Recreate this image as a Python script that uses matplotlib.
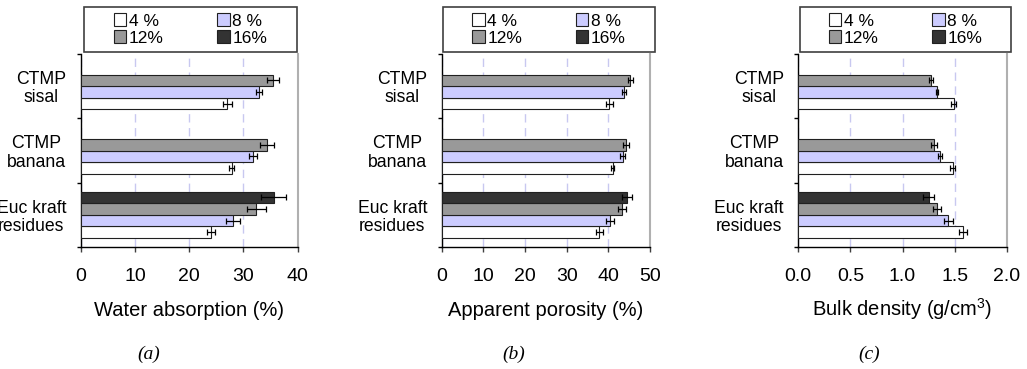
import matplotlib
matplotlib.use('Agg')
import matplotlib.pyplot as plt
from matplotlib.patches import Rectangle
import numpy as np

plt.rcParams['font.family'] = ['Liberation Sans', 'DejaVu Sans']
plt.rcParams['mathtext.default'] = 'regular'

categories = ['CTMP\nsisal', 'CTMP\nbanana', 'Euc kraft\nresidues']
series = ['4 %', '8 %', '12%', '16%']
colors = ['#ffffff', '#ccccff', '#999999', '#333333']

# water absorption (%), values and errors, per series, order of categories
water = [[27.0, 27.8, 24.0], [32.9, 31.8, 28.1], [35.4, 34.3, 32.4], [None, None, 35.6]]
water_err = [[0.8, 0.5, 0.8], [0.6, 0.7, 1.3], [1.1, 1.3, 1.7], [None, None, 2.3]]

porosity = [[40.2, 41.0, 37.8], [43.8, 43.4, 40.4], [45.3, 44.2, 43.2], [None, None, 44.4]]
porosity_err = [[0.8, 0.4, 0.8], [0.5, 0.5, 1.0], [0.6, 0.8, 1.0], [None, None, 1.2]]

density = [[1.49, 1.48, 1.58], [1.33, 1.36, 1.44], [1.27, 1.30, 1.33], [None, None, 1.25]]
density_err = [[0.02, 0.02, 0.04], [0.01, 0.02, 0.04], [0.02, 0.03, 0.04], [None, None, 0.05]]

xlabels = ['Water absorption (%)', 'Apparent porosity (%)', 'Bulk density (g/cm$^{3}$)']
xlims = [40, 50, 2.0]
xsteps = [10, 10, 0.5]
panel_tags = ['(a)', '(b)', '(c)']

fig = plt.figure(figsize=(10.27, 3.69), dpi=100)
W, H = 1027, 369

# pixel layout: left, right of each axes, and legend box
ax_px = [(80.7, 297.7), (441.7, 650.0), (798.3, 1006.7)]
leg_px = [(84, 297), (443, 655), (800, 1011)]
tag_x = [149, 514, 869]
top_px, bot_px = 54, 247

h = 0.18
offsets = [1.5 * h, 0.5 * h, -0.5 * h, -1.5 * h]

datasets = [(water, water_err), (porosity, porosity_err), (density, density_err)]

for p in range(3):
    l, r = ax_px[p]
    ax = fig.add_axes([l / W, 1 - bot_px / H, (r - l) / W, (bot_px - top_px) / H])
    vals, errs = datasets[p]
    handles = []
    for s in range(4):
        ys, xs, es = [], [], []
        for c in range(3):
            if vals[s][c] is not None:
                ys.append(c + offsets[s])
                xs.append(vals[s][c])
                es.append(errs[s][c])
        b = ax.barh(ys, xs, height=h, color=colors[s], edgecolor='#202020',
                    linewidth=0.8, zorder=3, label=series[s])
        ax.errorbar(xs, ys, xerr=es, fmt='none', ecolor='black', elinewidth=0.9,
                    capsize=2, capthick=0.9, zorder=4)
        handles.append(b)

    ax.set_ylim(-0.5, 2.5)
    ax.invert_yaxis()
    ax.set_yticks(range(3))
    ax.set_yticklabels(categories, fontsize=12.7, multialignment='center', linespacing=1.1)
    ax.set_yticks([-0.5, 0.5, 1.5, 2.5], minor=True)
    ax.tick_params(axis='y', which='major', length=0, pad=10.5)
    ax.tick_params(axis='y', which='minor', length=3, width=1, direction='out')

    ax.set_xlim(0, xlims[p])
    ax.set_xticks(np.arange(0, xlims[p] + xsteps[p] / 2, xsteps[p]))
    ax.tick_params(axis='x', length=3.6, width=1, direction='out', labelsize=14, pad=11.5,
                   color='#404040')
    ax.set_xlabel(xlabels[p], fontsize=14.5, va='baseline')
    ax.xaxis.set_label_coords(0.5, (bot_px - 316) / (bot_px - top_px))

    ax.grid(axis='x', color='#c8c8f0', linestyle=(0, (6, 4)), linewidth=1, zorder=0)
    ax.spines['top'].set_visible(False)
    ax.spines['right'].set_color('#b0b0b0')
    ax.spines['right'].set_linewidth(1.5)
    ax.spines['left'].set_linewidth(1)
    ax.spines['bottom'].set_linewidth(1)

    # legend box above the axes
    lx0, lx1 = leg_px[p]
    x0 = (lx0 - l) / (r - l)
    x1 = (lx1 - l) / (r - l)
    y0 = (bot_px - 52) / (bot_px - top_px)
    y1 = (bot_px - 7) / (bot_px - top_px)
    ax.add_patch(Rectangle((x0, y0), x1 - x0, y1 - y0, transform=ax.transAxes,
                           fill=False, edgecolor='#404040', linewidth=1.2, clip_on=False))
    order = [0, 2, 1, 3]
    ax.legend([handles[i] for i in order], [series[i] for i in order], ncol=2,
              loc='center', bbox_to_anchor=((x0 + x1) / 2, (y0 + y1) / 2),
              frameon=False, fontsize=12.5, handlelength=0.71, handleheight=0.71,
              handletextpad=0.15, columnspacing=3.1, labelspacing=0.1, borderpad=0)

    fig.text(tag_x[p] / W, 1 - 354 / H, panel_tags[p], ha='center', va='center',
             fontsize=14, family='Liberation Serif', style='italic')

fig.savefig('out.png', dpi=100)
